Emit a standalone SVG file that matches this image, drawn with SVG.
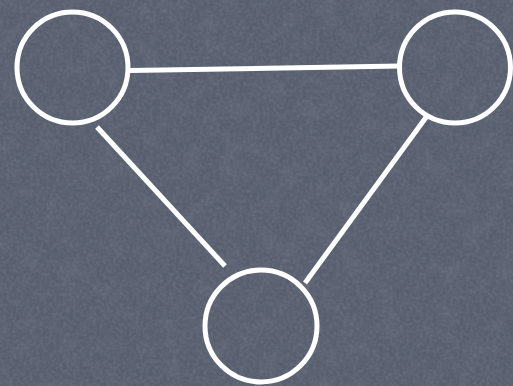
<svg xmlns="http://www.w3.org/2000/svg" width="513" height="386" viewBox="0 0 513 386">
<defs>
<filter id="noise" x="0" y="0" width="100%" height="100%">
<feTurbulence type="fractalNoise" baseFrequency="0.3" numOctaves="2" seed="3" result="n"/>
<feColorMatrix in="n" type="matrix" values="0 0 0 0 0.38  0 0 0 0 0.40  0 0 0 0 0.46  0.6 0 0 0 -0.2"/>
</filter>
<filter id="blotch" x="0" y="0" width="100%" height="100%">
<feTurbulence type="fractalNoise" baseFrequency="0.05" numOctaves="3" seed="7" result="m"/>
<feColorMatrix in="m" type="matrix" values="0 0 0 0 0.30  0 0 0 0 0.32  0 0 0 0 0.38  1 0 0 0 -0.45"/>
</filter>
<style>
.node{fill:none;stroke:#ffffff;stroke-width:5}
.edge{stroke:#ffffff;stroke-width:5;stroke-linecap:butt}
</style>
</defs>
<rect width="513" height="386" fill="#575e6e"/>
<rect width="513" height="386" filter="url(#blotch)" opacity="0.3"/>
<rect width="513" height="386" filter="url(#noise)" opacity="0.55"/>
<g id="connectors">
<line class="edge" x1="130" y1="70.5" x2="400" y2="66"/>
<line class="edge" x1="97" y1="127" x2="225" y2="266"/>
<line class="edge" x1="427" y1="116" x2="305" y2="283"/>
</g>
<g id="node-a"><circle class="node" cx="72.5" cy="67.5" r="55.5"/></g>
<g id="node-b"><circle class="node" cx="455" cy="67.5" r="55.5"/></g>
<g id="node-c"><circle class="node" cx="261" cy="326" r="56"/></g>
</svg>
